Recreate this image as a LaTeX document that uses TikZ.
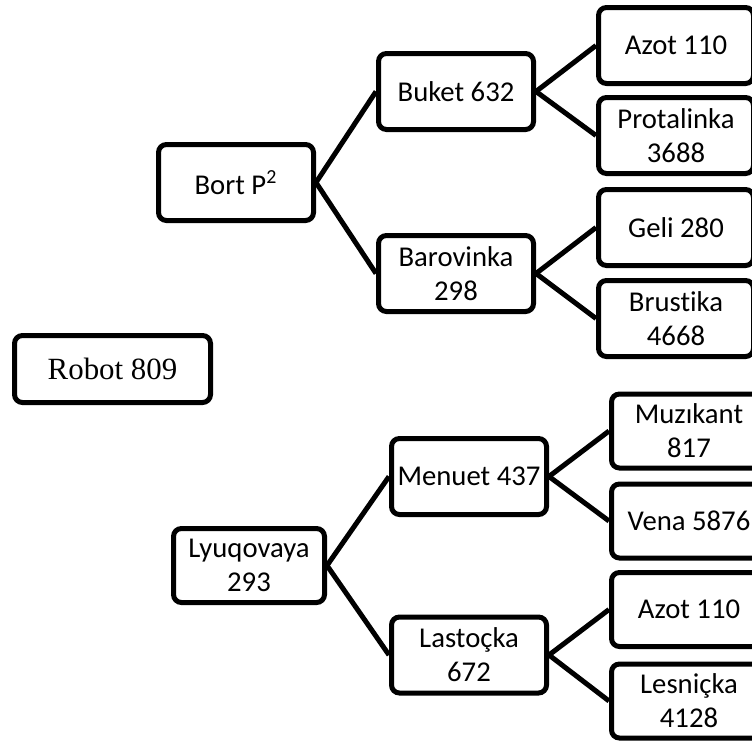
\documentclass[tikz,border=0pt]{standalone}
\usepackage{fontspec}
\setmainfont{Carlito}[Ligatures=NoCommon]
\newfontfamily\serifrm{Liberation Serif}
\usetikzlibrary{shapes}
\tikzstyle{sortbox} = [rectangle, rounded corners=4bp, minimum width=77.5bp, minimum height=38bp, inner sep=1bp, text centered, align=center, draw=black, line width=2.5bp, font=\fontsize{14.4}{17}\selectfont]
\tikzstyle{robotbox} = [rectangle, rounded corners=4bp, minimum width=98bp, minimum height=33.5bp, text centered, draw=black, line width=2.5bp, font=\serifrm\fontsize{15.5}{18}\selectfont]
\tikzstyle{branch} = [line width=2.5bp]

\begin{document}
\begin{tikzpicture}[node distance=110bp]
    \clip (0,0) rectangle (376bp,-371bp);
    % upper tree
    \node (bort) [sortbox] at (118bp,-91.25bp) {Bort P\textsuperscript{2}};
    \node (buket) [sortbox, right of=bort, yshift=45.5bp] {Buket 632};
    \node (barovinka) [sortbox, right of=bort, yshift=-45.5bp] {Barovinka\\298};
    \node (azot) [sortbox, right of=buket, yshift=23bp] {Azot 110};
    \node (protalinka) [sortbox, right of=buket, yshift=-22bp] {Protalinka\\3688};
    \node (geli) [sortbox, right of=barovinka, yshift=23bp] {Geli 280};
    \node (brustika) [sortbox, right of=barovinka, yshift=-22.5bp] {Brust\kern0pt ika\\4668};
    % single box
    \node (robot) [robotbox] at (56.25bp,-184.5bp) {Robot 809};
    % lower tree
    \node (lyuqovaya) [sortbox, minimum width=75.5bp, minimum height=37bp] at (124.5bp,-282.75bp) {Lyuqovaya\\293};
    \node (menuet) [sortbox, right of=lyuqovaya, yshift=44.5bp] {Menuet 437};
    \node (lastocka) [sortbox, right of=lyuqovaya, yshift=-44.75bp] {Lastoçka\\672};
    \node (muzikant) [sortbox, minimum height=37bp, right of=menuet, yshift=22.75bp] {Muzıkant\\817};
    \node (vena) [sortbox, minimum height=37bp, right of=menuet, yshift=-22.25bp] {Vena 5876};
    \node (azotb) [sortbox, minimum height=37bp, right of=lastocka, yshift=22.75bp] {Azot 110};
    \node (lesnicka) [sortbox, minimum height=37bp, right of=lastocka, yshift=-23bp] {Lesniçka\\4128};

    \draw [branch] (bort.east) -- (buket.west);
    \draw [branch] (bort.east) -- (barovinka.west);
    \draw [branch] (buket.east) -- (azot.west);
    \draw [branch] (buket.east) -- (protalinka.west);
    \draw [branch] (barovinka.east) -- (geli.west);
    \draw [branch] (barovinka.east) -- (brustika.west);
    \draw [branch] (lyuqovaya.east) -- (menuet.west);
    \draw [branch] (lyuqovaya.east) -- (lastocka.west);
    \draw [branch] (menuet.east) -- (muzikant.west);
    \draw [branch] (menuet.east) -- (vena.west);
    \draw [branch] (lastocka.east) -- (azotb.west);
    \draw [branch] (lastocka.east) -- (lesnicka.west);
\end{tikzpicture}
\end{document}
